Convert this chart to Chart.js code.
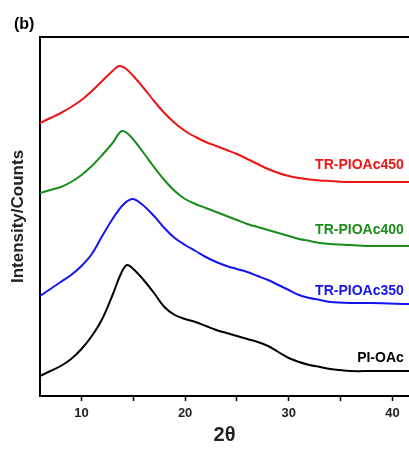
<!DOCTYPE html>
<html>
<head>
<meta charset="utf-8">
<script src="https://cdn.jsdelivr.net/npm/chart.js@4.4.1/dist/chart.umd.min.js"></script>
<style>
  html, body { margin: 0; padding: 0; background: #fff; overflow: hidden; }
</style>
</head>
<body>
<canvas id="xrd" width="409" height="449"></canvas>
<script>
// XRD patterns, intensity (arbitrary units, stacked)
const seriesNames = ["TR-PIOAc450", "TR-PIOAc400", "TR-PIOAc350", "PI-OAc"];
const seriesColors = ["#f01414", "#1a8c1a", "#1414f0", "#000000"];

const theta450 = [6,7,8,9,10,11,12,13,13.6,14.2,15,16,17,18,19,20,21,22,23,24,25,26,27,28,29,30,31,32,33,34,36,38,41.6];
const counts450 = [273,278,283,289,296,305,315,325,330,328,320,308,295,283,273,265,259,254,250,246,242,237,232,227,223,220,218,216.5,215.5,215,214,214,214];

const theta400 = [6,7,8,9,10,11,12,13,13.9,14.7,16,17,18,19,20,21,22,23,24,25,26,27,28,29,30,31,32,33,34,36,38,41.6];
const counts400 = [203,206,209,214,221,230,241,253,265,260,243,229,216,205,197,192,188,184,180,176,172,169,166,163,160,157,155,153,152,151,150,150];

const theta350 = [6,7,8,9,10,11,12,13,14,14.9,15.8,17,18,19,20,21,22,23,24,25,26,27,28,29,30,31,32,33,34,36,38,41.6];
const counts350 = [100,107,114,121,130,142,160,177,191,197,192,180,168,158,151,145,139,134,130,127,124,120,116,111,106,101,98,96,94,93,93,92];

const thetaPI = [6,7,8,9,10,11,12,13,13.8,14.4,15.2,16,17,18,19,20,21,22,23,24,25,26,27,28,29,30,31,32,33,34,36,38,41.6];
const countsPI = [20,25,30,37,47,60,77,101,122,131,125,116,103,89,81,77,74,70,66,63,60,57,54,50,44,38,34,31,29,27,25,25,25];

const xTicks = [10, 15, 20, 25, 30, 35, 40];
// where each curve's name sits (theta, counts)
const labelTheta = 41.1;
const labelCounts = [231, 166, 104.5, 38];

const toPoints = (xs, ys) => xs.map((x, i) => ({x: x, y: ys[i]}));
const allTheta = [theta450, theta400, theta350, thetaPI];
const allCounts = [counts450, counts400, counts350, countsPI];

const datasets = seriesNames.map((name, i) => ({
    label: name,
    data: toPoints(allTheta[i], allCounts[i]),
    borderColor: seriesColors[i],
    borderWidth: 2,
    pointRadius: 0,
    tension: 0.35,
    fill: false
}));

const textPlugin = {
    id: 'texts',
    afterDraw(chart) {
        const ctx = chart.ctx;
        const xs = chart.scales.x, ys = chart.scales.y;
        ctx.save();
        ctx.textBaseline = 'middle';
        ctx.font = 'bold 16px "Liberation Sans", Arial, sans-serif';
        ctx.fillStyle = '#000';
        ctx.textAlign = 'left';
        ctx.fillText('(b)', 14, 25);
        ctx.font = 'bold 14px "Liberation Sans", Arial, sans-serif';
        ctx.textAlign = 'right';
        for (let i = 0; i < seriesNames.length; i++) {
            ctx.fillStyle = seriesColors[i];
            ctx.fillText(seriesNames[i], xs.getPixelForValue(labelTheta), ys.getPixelForValue(labelCounts[i]));
        }
        ctx.restore();
    }
};

new Chart(document.getElementById('xrd'), {
    type: 'line',
    data: {datasets: datasets},
    plugins: [textPlugin],
    options: {
        responsive: false,
        animation: false,
        layout: {padding: {top: 37, left: 0, right: 0, bottom: 0}},
        plugins: {legend: {display: false}, tooltip: {enabled: false}},
        scales: {
            x: {
                type: 'linear',
                position: 'bottom',
                min: 6,
                max: 41.6,
                afterBuildTicks: s => { s.ticks = xTicks.map(v => ({value: v})); },
                afterFit: s => { s.height = 53; },
                grid: {drawOnChartArea: false, tickLength: 5, tickColor: '#000', tickWidth: 1.5},
                border: {display: true, color: '#000', width: 2},
                ticks: {
                    color: '#222',
                    padding: 5,
                    maxRotation: 0,
                    font: {family: '"Liberation Sans", Arial, sans-serif', size: 13, weight: 'bold'},
                    callback: v => (v % 10 === 0 ? String(v) : '')
                },
                title: {
                    display: true,
                    text: '2θ',
                    color: '#222',
                    padding: {top: 0, bottom: 2},
                    font: {family: '"Liberation Sans", Arial, sans-serif', size: 20, weight: 'bold'}
                }
            },
            xTop: {
                type: 'linear',
                position: 'top',
                min: 6,
                max: 41.6,
                afterFit: s => { s.height = 0; },
                grid: {display: false, drawTicks: false},
                ticks: {display: false},
                border: {display: true, color: '#000', width: 2}
            },
            y: {
                min: 0,
                max: 359,
                afterFit: s => { s.width = 40; },
                grid: {display: false, drawTicks: false},
                ticks: {display: false},
                border: {display: true, color: '#000', width: 2},
                title: {
                    display: true,
                    text: 'Intensity/Counts',
                    color: '#222',
                    padding: {top: 8, bottom: 0},
                    font: {family: '"Liberation Sans", Arial, sans-serif', size: 17, weight: 'bold'}
                }
            }
        }
    }
});
</script>
</body>
</html>
